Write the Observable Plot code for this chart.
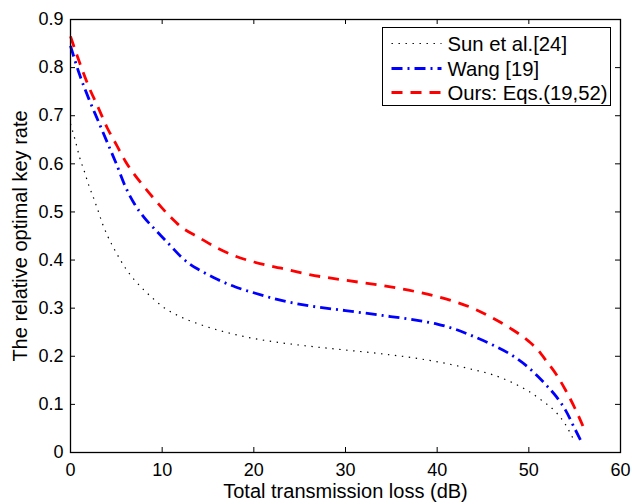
<!DOCTYPE html>
<html>
<head>
<meta charset="utf-8">
<script src="https://cdn.jsdelivr.net/npm/d3@7"></script>
<script src="https://cdn.jsdelivr.net/npm/@observablehq/plot@0.6"></script>
<style>
  html, body { margin: 0; padding: 0; background: #fff; overflow: hidden; }
  #wrap { position: relative; width: 632px; height: 504px; overflow: hidden; font-family: "Liberation Sans", Arial, sans-serif; }
  #wrap > svg { position: absolute; left: 0; top: 0; }
</style>
</head>
<body>
<div id="wrap"></div>
<script>
// ---- data ----
const sunX = [0, 0.5, 1, 1.5, 2, 2.5, 3, 3.5, 4, 5, 6, 7, 8, 9, 10, 12, 14, 16, 18, 20, 23, 26, 30, 34, 38, 41, 44, 46, 48, 50, 51.5, 53, 54, 55];
const sunY = [0.683, 0.65, 0.613, 0.585, 0.555, 0.53, 0.503, 0.475, 0.452, 0.415, 0.383, 0.358, 0.338, 0.32, 0.304, 0.282, 0.267, 0.255, 0.245, 0.237, 0.228, 0.221, 0.213, 0.205, 0.195, 0.185, 0.172, 0.162, 0.147, 0.127, 0.107, 0.083, 0.058, 0.022];

const wangX = [0, 1, 2, 3, 4, 5, 6, 7, 8, 9, 10, 11, 12, 13, 14, 16, 18, 20, 23, 26, 30, 34, 38, 40, 42, 44, 46, 48, 50, 51, 52, 53, 54, 55, 55.8];
const wangY = [0.845, 0.785, 0.735, 0.69, 0.645, 0.6, 0.552, 0.516, 0.489, 0.468, 0.448, 0.428, 0.408, 0.392, 0.38, 0.36, 0.344, 0.332, 0.316, 0.305, 0.295, 0.285, 0.274, 0.267, 0.256, 0.241, 0.224, 0.204, 0.176, 0.158, 0.138, 0.116, 0.088, 0.05, 0.02];

const oursX = [0, 1, 2, 3, 4, 5, 6, 7, 8, 9, 10, 11, 12, 14, 16, 18, 20, 23, 26, 30, 34, 38, 40, 42, 44, 46, 48, 50, 51, 52, 53, 54, 55, 56, 56.2];
const oursY = [0.865, 0.81, 0.76, 0.718, 0.675, 0.64, 0.605, 0.577, 0.553, 0.53, 0.508, 0.488, 0.47, 0.447, 0.425, 0.408, 0.396, 0.383, 0.37, 0.358, 0.347, 0.333, 0.324, 0.313, 0.299, 0.28, 0.258, 0.231, 0.213, 0.188, 0.162, 0.13, 0.093, 0.05, 0.04];

const seriesNames = ["Sun et al.[24]", "Wang [19]", "Ours: Eqs.(19,52)"];
const seriesColors = ["#000000", "#0000ff", "#ff0000"];
const seriesDash = ["1.4,5.6", "11,5,2,5", "11,8"];
const seriesWidth = [1.2, 2.8, 2.8];

const xTicks = [0, 10, 20, 30, 40, 50, 60];
const yTicks = [0, 0.1, 0.2, 0.3, 0.4, 0.5, 0.6, 0.7, 0.8, 0.9];
const xInner = [10, 20, 30, 40, 50];
const yInner = [0.1, 0.2, 0.3, 0.4, 0.5, 0.6, 0.7, 0.8];

const xs = [sunX, wangX, oursX];
const ys = [sunY, wangY, oursY];
const rows = [];
seriesNames.forEach((name, i) => xs[i].forEach((x, j) => rows.push({series: name, x, y: ys[i][j]})));

const W = 632, H = 504;
const mL = 70, mR = 12, mT = 19, mB = 52;
const pw = W - mL - mR, ph = H - mT - mB;
const tk = 5;

const lineMarks = seriesNames.map((name, i) =>
  Plot.line(rows.filter(d => d.series === name), {
    x: "x", y: "y", stroke: seriesColors[i], strokeWidth: seriesWidth[i],
    strokeDasharray: seriesDash[i], strokeLinecap: "butt", curve: "monotone-x"
  })
);

const yFmt = d => d === 0 ? "0" : d3.format(".1f")(d);

const chart = Plot.plot({
  width: W, height: H,
  marginLeft: mL, marginRight: mR, marginTop: mT, marginBottom: mB,
  style: {fontFamily: "Liberation Sans, Arial, sans-serif", fontSize: "18px", color: "#000", background: "#fff", maxWidth: "none"},
  x: {domain: [0, 60]},
  y: {domain: [0, 0.9]},
  marks: [
    ...lineMarks,
    Plot.tickX(xInner, {x: d => d, insetTop: ph - tk, stroke: "#000", strokeWidth: 1}),
    Plot.tickX(xInner, {x: d => d, insetBottom: ph - tk, stroke: "#000", strokeWidth: 1}),
    Plot.tickY(yInner, {y: d => d, insetRight: pw - tk, stroke: "#000", strokeWidth: 1}),
    Plot.tickY(yInner, {y: d => d, insetLeft: pw - tk, stroke: "#000", strokeWidth: 1}),
    Plot.frame({stroke: "#000", strokeWidth: 1.3}),
    Plot.axisX({ticks: xTicks, tickSize: 0, tickPadding: 11, tickFormat: d => String(d), fontSize: 18, label: null}),
    Plot.axisX({ticks: [], tickSize: 0, fontSize: 20,
      label: "Total transmission loss (dB)", labelAnchor: "center", labelOffset: 45, labelArrow: "none"}),
    Plot.axisY({ticks: yTicks, tickSize: 0, tickPadding: 7, tickFormat: yFmt, fontSize: 18, label: null}),
    Plot.axisY({ticks: [], tickSize: 0, fontSize: 20,
      label: "The relative optimal key rate", labelAnchor: "center", labelOffset: 58, labelArrow: "none"})
  ]
});

const wrap = document.getElementById("wrap");
wrap.appendChild(chart);

// legend drawn inside the chart's own SVG
const lg = d3.select(chart).append("g").attr("transform", "translate(382.5,27.5)");
lg.append("rect").attr("width", 228).attr("height", 78).attr("fill", "#fff").attr("stroke", "#000").attr("stroke-width", 1);
const baselines = [23, 48, 72];
seriesNames.forEach((name, i) => {
  const ly = baselines[i] - 7;
  lg.append("line").attr("x1", 9).attr("x2", 59).attr("y1", ly).attr("y2", ly)
    .attr("stroke", seriesColors[i]).attr("stroke-width", seriesWidth[i]).attr("stroke-dasharray", seriesDash[i]);
  lg.append("text").attr("x", 65).attr("y", baselines[i]).attr("fill", "#000")
    .attr("text-anchor", "start")
    .style("font-size", "20.3px").style("font-family", "'Liberation Sans', Arial, sans-serif").text(name);
});
</script>
</body>
</html>
